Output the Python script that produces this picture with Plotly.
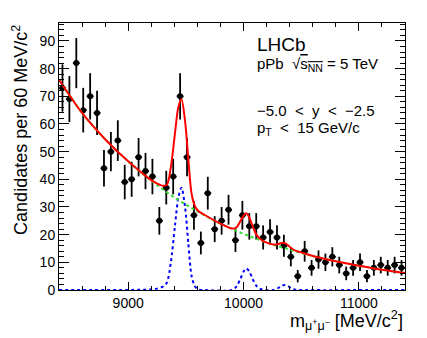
import plotly.graph_objects as go

# dimuon mass bin centres (60 MeV bins) and candidates per bin
mass = [8430, 8490, 8550, 8610, 8670, 8730, 8790, 8850, 8910, 8970,
        9030, 9090, 9150, 9210, 9270, 9330, 9390, 9450, 9510, 9570,
        9630, 9690, 9750, 9810, 9870, 9930, 9990, 10050, 10110, 10170,
        10230, 10290, 10350, 10410, 10470, 10530, 10590, 10650, 10710, 10770,
        10830, 10890, 10950, 11010, 11070, 11130, 11190, 11250, 11310, 11370]
counts = [73, 69, 82, 65, 70, 64, 44, 50, 54, 39,
          40, 48, 43, 41, 25, 37, 41, 70, 48, 27,
          17, 35, 22, 25, 29, 18, 27, 23, 23, 19,
          21, 19, 16, 12, 5, 14, 8, 11, 10, 12,
          9, 6, 8, 10, 5, 8, 9, 8, 9, 8]

# background fit (green dotted)
bkg_mass = [8400, 8600, 8800, 9000, 9200, 9400, 9600, 9800, 10000, 10200,
            10400, 10600, 10800, 11000, 11200, 11400]
bkg_fit = [76.0, 64.0, 54.5, 46.5, 39.5, 33.5, 28.4, 24.0, 20.3, 17.2,
           14.6, 12.3, 10.4, 8.8, 7.3, 6.1]

# Upsilon signal shapes (blue dotted)
sig_mass = [8400, 9200, 9250, 9300, 9335, 9370, 9405, 9435, 9462, 9493,
            9521, 9550, 9580, 9610, 9660, 9900, 9940, 9970, 10000, 10023,
            10050, 10080, 10110, 10145, 10190, 10260, 10300, 10330, 10355, 10385,
            10415, 10450, 10500, 11400]
sig_fit = [0, 0.2, 0.5, 1.2, 2.6, 10, 23, 33.5, 37, 30,
           17, 5, 1.2, 0.2, 0, 0, 1.3, 3.8, 6.6, 7.8,
           6.7, 3.9, 1.6, 0.4, 0, 0, 0.7, 1.5, 1.8, 1.4,
           0.6, 0.1, 0, 0]

# total fit (red)
tot_mass = [8400, 8600, 8800, 9000, 9200, 9250, 9300, 9335, 9370, 9405,
            9435, 9462, 9493, 9521, 9550, 9580, 9610, 9660, 9800, 9900,
            9940, 9970, 10000, 10023, 10050, 10080, 10110, 10145, 10190, 10260,
            10300, 10330, 10355, 10385, 10415, 10450, 10500, 10600, 10800, 11000,
            11200, 11400]
tot_fit = [76.0, 64.0, 54.5, 46.5, 39.7, 38.5, 37.7, 38.0, 44.4, 56.4,
           66.1, 68.9, 61.1, 47.4, 34.7, 30.2, 28.5, 27.2, 24.0, 22.2,
           22.7, 24.7, 26.9, 27.7, 26.2, 22.9, 20.1, 18.4, 17.3, 16.4,
           16.6, 17.0, 17.0, 16.2, 15.1, 14.2, 13.6, 12.3, 10.4, 8.8,
           7.3, 6.1]

FONT = "Liberation Sans, Arial, sans-serif"

fig = go.Figure()
fig.add_trace(go.Scatter(
    x=mass, y=counts, mode="markers",
    marker=dict(color="black", size=6),
    error_y=dict(type="sqrt", color="black", thickness=1.8, width=0),
    error_x=dict(type="constant", value=30, color="black", thickness=1.8, width=0),
))
fig.add_trace(go.Scatter(x=sig_mass, y=sig_fit, mode="lines",
                         line=dict(color="#0000ff", dash="dot", width=2, shape="spline", smoothing=0.8)))
fig.add_trace(go.Scatter(x=bkg_mass, y=bkg_fit, mode="lines",
                         line=dict(color="#33dd33", dash="dot", width=2, shape="spline")))
fig.add_trace(go.Scatter(x=tot_mass, y=tot_fit, mode="lines",
                         line=dict(color="#ff0000", width=2, shape="spline", smoothing=0.8)))

axis_common = dict(showline=True, mirror="allticks", linecolor="black", linewidth=1,
                   ticks="inside", tickcolor="black", tickwidth=1,
                   showgrid=False, zeroline=False,
                   tickfont=dict(family=FONT, size=14, color="black"))

fig.update_xaxes(range=[8400, 11400], tickmode="linear", tick0=9000, dtick=1000, ticklen=8,
                 tickformat="d",
                 minor=dict(ticks="inside", ticklen=4, tickmode="linear", tick0=8400, dtick=200,
                            tickcolor="black", showgrid=False),
                 **axis_common)
fig.update_yaxes(range=[0, 96.5], tickmode="linear", tick0=0, dtick=10, ticklen=10,
                 minor=dict(ticks="inside", ticklen=5, tickmode="linear", tick0=0, dtick=2,
                            tickcolor="black", showgrid=False),
                 **axis_common)

txt = dict(xref="paper", yref="paper", showarrow=False, xanchor="left", yanchor="middle",
           font=dict(family=FONT, size=15, color="black"))
fig.add_annotation(x=0.566, y=0.918, text="LHCb",
                   **{**txt, "font": dict(family=FONT, size=19, color="black")})
fig.add_annotation(x=0.566, y=0.846,
                   text="pPb  √<span style='text-decoration:overline'>s<sub>NN</sub></span> = 5 TeV", **txt)
fig.add_annotation(x=0.566, y=0.674,
                   text="−5.0 &nbsp;&lt;&nbsp; y &nbsp;&lt;&nbsp; −2.5", **txt)
fig.add_annotation(x=0.566, y=0.603,
                   text="p<sub>T</sub> &nbsp;&lt;&nbsp; 15 GeV/c", **txt)

# axis titles, ROOT style (right / top aligned)
fig.add_annotation(x=1.0, y=-0.116, xref="paper", yref="paper", showarrow=False,
                   xanchor="right", yanchor="middle",
                   text="m<sub>μ<sup>+</sup>μ<sup>−</sup></sub> [MeV/c<sup>2</sup>]",
                   font=dict(family=FONT, size=18, color="black"))
fig.add_annotation(x=-0.113, y=1.0, xref="paper", yref="paper", showarrow=False,
                   xanchor="center", yanchor="top", textangle=-90,
                   text="Candidates per 60 MeV/c<sup>2</sup>",
                   font=dict(family=FONT, size=18, color="black"))

# the page body has an 8px margin, so the figure is shrunk to fit the window
fig.update_layout(width=419, height=330, showlegend=False,
                  margin=dict(l=51, r=22, t=15, b=48),
                  plot_bgcolor="white", paper_bgcolor="white")

fig.write_html("out.html", config={"displayModeBar": False})
